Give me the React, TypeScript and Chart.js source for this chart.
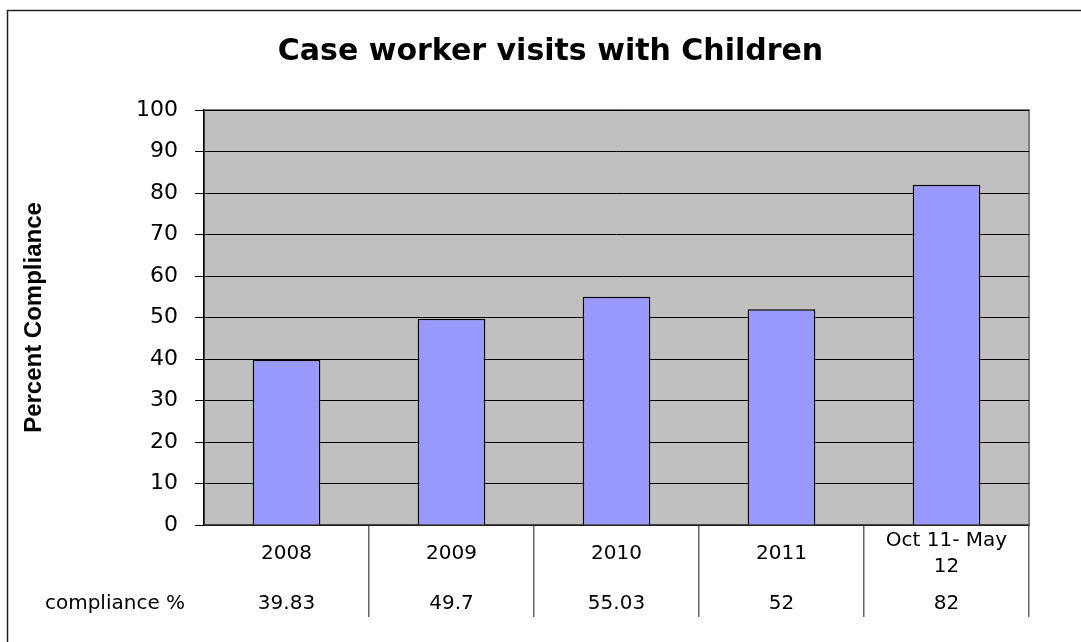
import React, { useEffect, useRef } from 'react';
import { Chart, registerables } from 'chart.js';

Chart.register(...registerables);

const chartTitle = 'Case worker visits with Children';
const yAxisTitle = 'Percent Compliance';
const rowLabel = 'compliance %';
const categories: string[][] = [['2008'], ['2009'], ['2010'], ['2011'], ['Oct 11- May', '12']];
const compliance = [39.83, 49.7, 55.03, 52, 82];
const complianceLabels = ['39.83', '49.7', '55.03', '52', '82'];
const yMin = 0;
const yMax = 100;
const yStep = 10;

const tablePlugin = {
  id: 'excelFrameAndTable',
  beforeDraw(chart: any) {
    const { ctx, chartArea: a } = chart;
    ctx.save();
    ctx.fillStyle = '#ffffff';
    ctx.fillRect(0, 0, chart.width, chart.height);
    ctx.strokeStyle = '#222222';
    ctx.lineWidth = 1.5;
    ctx.beginPath();
    ctx.moveTo(7.5, chart.height + 5);
    ctx.lineTo(7.5, 10.5);
    ctx.lineTo(chart.width + 5, 10.5);
    ctx.stroke();
    ctx.fillStyle = '#c0c0c0';
    ctx.fillRect(a.left, a.top, a.right - a.left, a.bottom - a.top);
    ctx.strokeStyle = '#808080';
    ctx.lineWidth = 2;
    ctx.strokeRect(a.left, a.top, a.right - a.left, a.bottom - a.top);
    ctx.restore();
  },
  afterDraw(chart: any) {
    const { ctx, chartArea: a } = chart;
    const xs = chart.scales.x;
    const labels = chart.data.labels as string[][];
    const values = complianceLabels;
    ctx.save();
    ctx.fillStyle = '#000000';
    ctx.font = '20px "DejaVu Sans"';
    ctx.textAlign = 'center';
    ctx.textBaseline = 'middle';
    const lh = 26;
    labels.forEach((lines, i) => {
      const px = xs.getPixelForValue(i);
      const cy = a.bottom + 29;
      lines.forEach((t, j) => {
        ctx.fillText(t, px, cy + (j - (lines.length - 1) / 2) * lh);
      });
      ctx.fillText(values[i], px, a.bottom + 79);
    });
    ctx.fillText(rowLabel, 115, a.bottom + 79);
    ctx.restore();
  },
};

export default function App() {
  const canvasRef = useRef<HTMLCanvasElement | null>(null);

  useEffect(() => {
    if (!canvasRef.current) return;
    const chart = new Chart(canvasRef.current, {
      type: 'bar',
      data: {
        labels: categories as any,
        datasets: [
          {
            label: rowLabel,
            data: compliance,
            backgroundColor: '#9999ff',
            borderColor: '#000000',
            borderWidth: 1.5,
            barPercentage: 0.41,
            categoryPercentage: 1,
          },
        ],
      },
      options: {
        animation: false,
        responsive: true,
        maintainAspectRatio: false,
        devicePixelRatio: 1,
        layout: { padding: { left: 20, right: 0, top: 0, bottom: 0 } },
        plugins: {
          legend: { display: false },
          tooltip: { enabled: false },
          title: {
            display: true,
            text: chartTitle,
            color: '#000000',
            font: { family: '"DejaVu Sans"', size: 30, weight: 'bold' },
            padding: { top: 34, bottom: 40 },
          },
        },
        scales: {
          x: {
            type: 'category',
            offset: true,
            afterFit(scale: any) {
              scale.height = 117;
            },
            ticks: { display: false },
            grid: {
              offset: true,
              drawOnChartArea: false,
              drawTicks: true,
              tickLength: 92,
              lineWidth: 1.5,
              color: (c: any) => (c.index === 0 || c.index === categories.length ? 'rgba(0,0,0,0)' : '#666666'),
            },
            border: { display: true, color: '#444444', width: 1.5 },
          },
          y: {
            min: yMin,
            max: yMax,
            afterFit(scale: any) {
              scale.width = 184;
            },
            ticks: {
              stepSize: yStep,
              color: '#000000',
              padding: 17,
              font: { family: '"DejaVu Sans"', size: 22 },
            },
            grid: { color: '#000000', lineWidth: 1, tickLength: 9 },
            border: { display: true, color: '#000000', width: 1.5 },
            title: {
              display: true,
              text: yAxisTitle,
              color: '#000000',
              font: { family: '"Liberation Sans"', size: 24, weight: 'bold' },
              padding: { top: 0, bottom: 0 },
            },
          },
          yRightSpace: {
            type: 'linear',
            position: 'right',
            min: yMin,
            max: yMax,
            afterFit(scale: any) {
              scale.width = 52;
            },
            ticks: { display: false },
            grid: { display: false },
            border: { display: false },
          },
        },
      },
      plugins: [tablePlugin],
    });
    return () => chart.destroy();
  }, []);

  return (
    <div style={{ position: 'fixed', left: 0, top: 0, width: 1081, height: 642, background: '#fff' }}>
      <canvas ref={canvasRef} />
    </div>
  );
}
